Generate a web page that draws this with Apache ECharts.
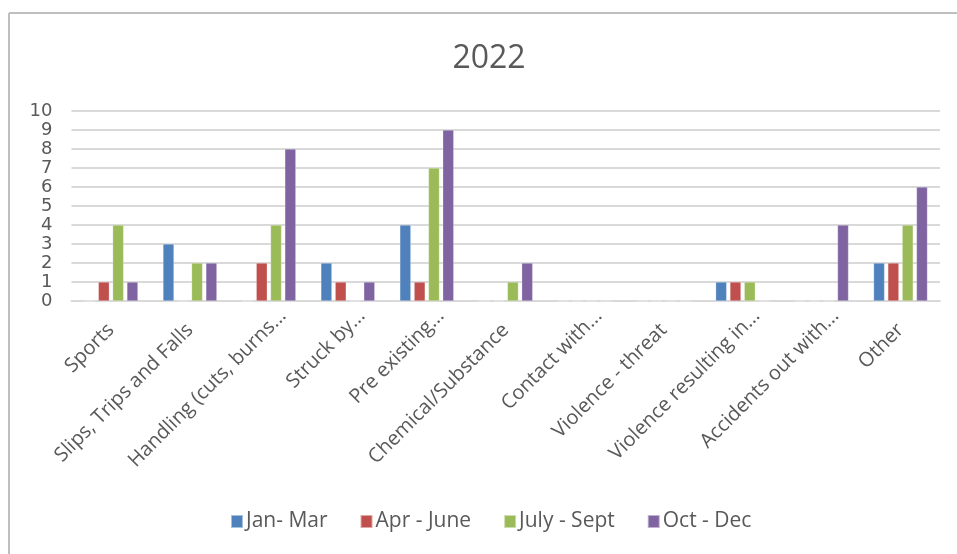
<!DOCTYPE html>
<html>
<head>
<meta charset="utf-8">
<script src="https://cdn.jsdelivr.net/npm/echarts@6/dist/echarts.min.js"></script>
<style>
html,body{margin:0;padding:0;background:#fff;}
#chart{width:957px;height:554px;}
</style>
</head>
<body>
<div id="chart"></div>
<script>
const categories = ["Sports", "Slips, Trips and Falls", "Handling (cuts, burns...", "Struck by...", "Pre existing...", "Chemical/Substance", "Contact with...", "Violence - threat", "Violence resulting in...", "Accidents out with...", "Other"];
const janMar = [0, 3, 0, 2, 4, 0, 0, 0, 1, 0, 2];
const aprJune = [1, 0, 2, 1, 1, 0, 0, 0, 1, 0, 2];
const julySept = [4, 2, 4, 0, 7, 1, 0, 0, 1, 0, 4];
const octDec = [1, 2, 8, 1, 9, 2, 0, 0, 0, 4, 6];
const seriesNames = ["Jan- Mar", "Apr - June", "July - Sept", "Oct - Dec"];
const yTicks = [0, 1, 2, 3, 4, 5, 6, 7, 8, 9, 10];

const colors = ["#4F81BD", "#C0504D", "#9BBB59", "#8064A2"];
const values = [janMar, aprJune, julySept, octDec];

// truncated labels sit further along their direction, as in the source
const catData = categories.map(c => c.endsWith('...')
  ? {value: c, textStyle: {padding: [0, -20, 0, 0]}}
  : {value: c});

const chart = echarts.init(document.getElementById('chart'), null, {renderer: 'canvas'});
chart.setOption({
  animation: false,
  backgroundColor: '#fff',
  title: {
    text: '2022',
    left: 484, top: 38,
    textAlign: 'center',
    textStyle: {color: '#595959', fontSize: 32, fontWeight: 'normal', fontFamily: 'Open Sans'}
  },
  graphic: [
    {type: 'line', shape: {x1: 9, y1: 13, x2: 957, y2: 13}, style: {stroke: '#bfbfbf', lineWidth: 2}},
    {type: 'line', shape: {x1: 9, y1: 13, x2: 9, y2: 554}, style: {stroke: '#bfbfbf', lineWidth: 2}}
  ],
  legend: {
    left: 230, top: 511, padding: 0,
    itemWidth: 12, itemHeight: 13, itemGap: 32,
    icon: 'rect',
    textStyle: {color: '#595959', fontSize: 21, fontFamily: 'Open Sans', padding: [0, 0, 0, -2]},
    data: seriesNames
  },
  grid: {left: 71.5, right: 17, top: 111, bottom: 253, containLabel: false},
  xAxis: {
    type: 'category',
    data: catData,
    axisLine: {show: true, lineStyle: {color: '#d9d9d9', width: 2}},
    axisTick: {show: false},
    axisLabel: {interval: 0, rotate: 45, margin: 26, color: '#595959', fontSize: 20, fontFamily: 'Open Sans'}
  },
  yAxis: {
    type: 'value',
    min: 0, max: 10, interval: 1,
    axisLine: {show: false},
    axisTick: {show: false},
    splitLine: {lineStyle: {color: '#d9d9d9', width: 2}},
    axisLabel: {margin: 19, color: '#595959', fontSize: 18, fontFamily: 'DejaVu Sans',
      formatter: v => yTicks.includes(v) ? String(v) : ''}
  },
  series: values.map((d, i) => ({
    name: seriesNames[i],
    type: 'bar',
    data: d,
    barWidth: 11,
    barGap: '30%',
    itemStyle: {color: colors[i], borderColor: 'rgba(255,255,255,0.5)', borderWidth: 0.5}
  }))
});
</script>
</body>
</html>
